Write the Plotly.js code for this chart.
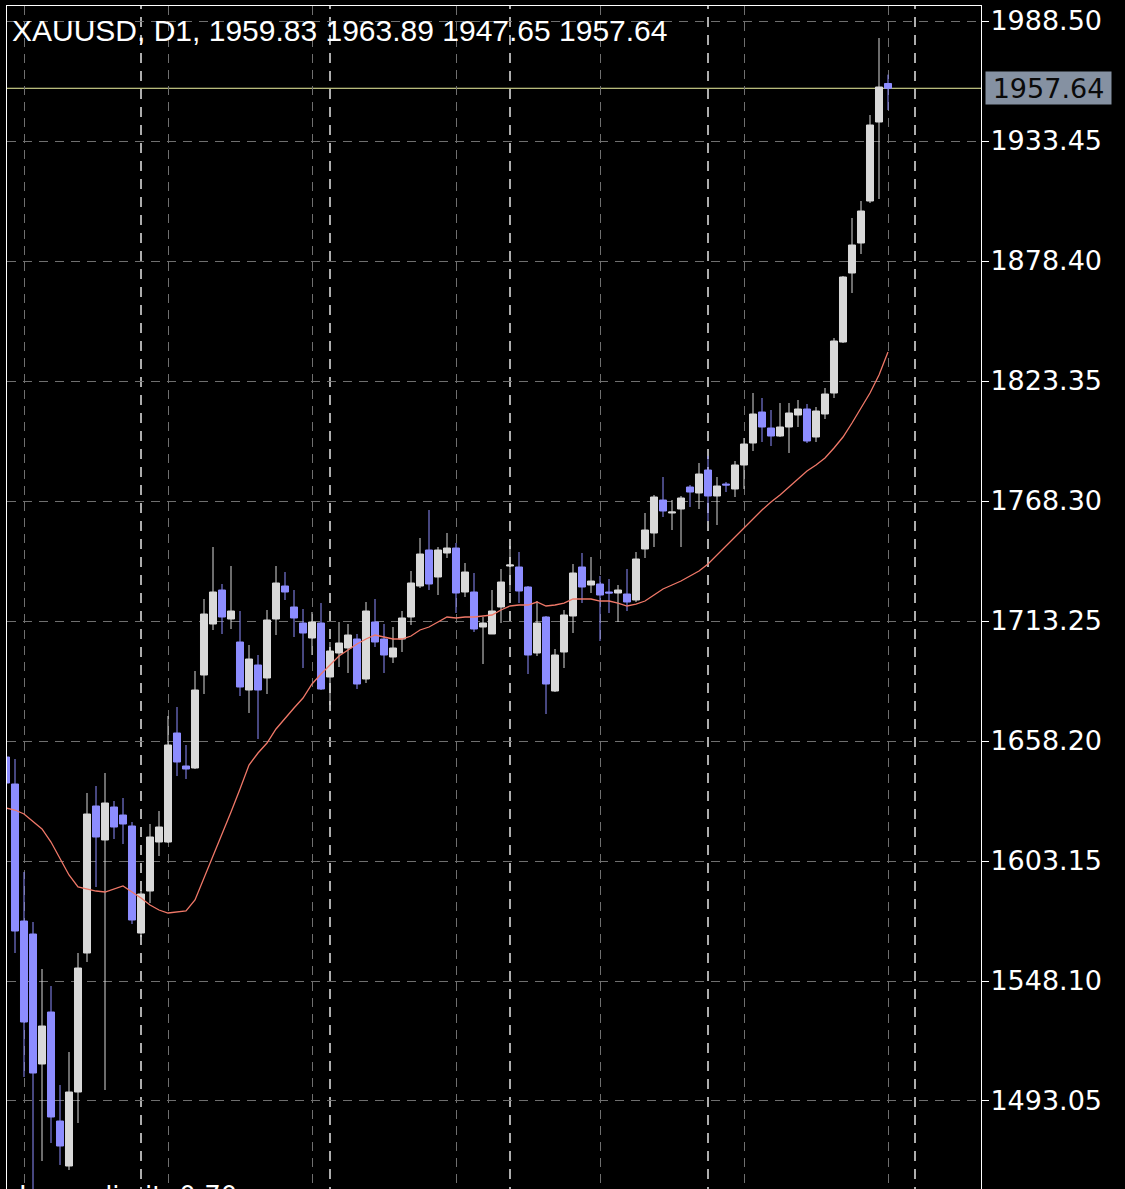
<!DOCTYPE html>
<html>
<head>
<meta charset="utf-8">
<script src="https://cdn.plot.ly/plotly-3.0.1.min.js"></script>
<style>
  html, body { margin: 0; padding: 0; background: #000; overflow: hidden; }
  #chart { width: 1125px; height: 1215px; }
</style>
</head>
<body>
<div id="chart"></div>
<script>
// ---- data (XAUUSD daily bars, oldest first) ----
const symbolName = "XAUUSD";
const timeframe = "D1";
const barIndex = Array.from({length: 99}, (_, i) => i);

const opens = [
  1650.86, 1638.47, 1575.62, 1569.66, 1510.02, 1533.87, 1483.87, 1463.23, 1497.17, 1560.94,
  1628.38, 1612.78, 1627.92, 1624.25, 1619.20, 1570.12, 1589.38, 1611.86, 1611.86, 1661.87,
  1646.73, 1645.81, 1688.47, 1711.87, 1727.47, 1714.16, 1703.61, 1681.59, 1693.06, 1687.10,
  1714.16, 1729.30, 1719.67, 1712.33, 1705.45, 1712.33, 1687.56, 1698.57, 1700.86, 1704.99,
  1686.64, 1712.79, 1704.99, 1696.73, 1704.99, 1715.08, 1729.30, 1745.82, 1733.43, 1744.44,
  1746.73, 1726.55, 1726.55, 1710.49, 1707.28, 1719.67, 1738.48, 1738.02, 1728.84, 1698.57,
  1715.08, 1681.13, 1699.02, 1715.54, 1738.02, 1729.76, 1730.22, 1726.55, 1726.09, 1725.63,
  1722.88, 1746.28, 1753.62, 1768.75, 1762.79, 1764.63, 1774.72, 1771.97, 1782.52, 1770.59,
  1776.09, 1773.80, 1784.81, 1794.90, 1809.12, 1801.78, 1798.11, 1802.24, 1807.75, 1810.50,
  1797.66, 1808.21, 1817.84, 1841.24, 1872.89, 1886.65, 1905.92, 1942.16, 1959.83
];
const highs = [
  1653.15, 1649.94, 1598.10, 1575.16, 1553.60, 1545.80, 1500.39, 1515.52, 1560.94, 1634.34,
  1637.55, 1643.52, 1630.67, 1632.05, 1621.04, 1589.84, 1620.12, 1626.08, 1669.66, 1673.79,
  1656.36, 1690.31, 1723.34, 1747.19, 1730.22, 1738.48, 1717.83, 1702.24, 1697.65, 1718.29,
  1738.48, 1735.72, 1727.47, 1718.75, 1717.37, 1721.50, 1703.61, 1712.79, 1711.87, 1707.28,
  1721.96, 1723.34, 1711.87, 1710.49, 1717.83, 1736.18, 1751.32, 1764.17, 1747.19, 1753.62,
  1749.03, 1739.85, 1735.27, 1715.08, 1727.47, 1737.10, 1747.65, 1744.90, 1729.30, 1722.42,
  1715.54, 1700.40, 1718.29, 1739.39, 1744.44, 1742.61, 1733.89, 1732.51, 1729.76, 1737.10,
  1744.90, 1762.79, 1771.05, 1779.31, 1768.75, 1770.59, 1775.64, 1785.73, 1788.94, 1779.31,
  1777.01, 1786.65, 1797.20, 1817.84, 1815.55, 1810.04, 1813.25, 1813.25, 1814.63, 1812.79,
  1811.42, 1820.14, 1843.07, 1871.51, 1898.12, 1905.92, 1945.37, 1980.70, 1963.89
];
const lows = [
  1637.55, 1560.94, 1504.06, 1449.92, 1465.52, 1473.78, 1463.69, 1461.39, 1482.95, 1556.82,
  1591.22, 1498.09, 1613.24, 1610.94, 1574.24, 1568.28, 1583.88, 1605.44, 1611.40, 1642.14,
  1640.76, 1645.35, 1679.76, 1709.12, 1707.28, 1709.58, 1678.84, 1671.04, 1659.11, 1679.76,
  1706.82, 1722.88, 1705.91, 1691.68, 1697.65, 1681.59, 1674.71, 1692.14, 1689.39, 1682.05,
  1684.80, 1701.32, 1689.39, 1693.98, 1699.02, 1711.41, 1728.38, 1727.47, 1725.17, 1742.15,
  1716.92, 1724.26, 1708.20, 1693.52, 1707.28, 1712.33, 1726.55, 1721.50, 1688.93, 1697.19,
  1670.58, 1680.67, 1691.68, 1707.74, 1721.50, 1726.09, 1704.07, 1716.92, 1712.79, 1717.83,
  1721.96, 1742.15, 1747.19, 1760.96, 1754.99, 1747.19, 1765.54, 1764.63, 1759.12, 1757.29,
  1772.42, 1770.13, 1773.80, 1791.23, 1795.36, 1793.53, 1797.66, 1790.32, 1802.24, 1794.90,
  1795.36, 1805.91, 1815.55, 1840.78, 1863.72, 1881.61, 1905.00, 1906.84, 1947.65
];
const closes = [
  1638.93, 1571.03, 1529.29, 1505.89, 1527.45, 1485.71, 1472.40, 1497.17, 1554.06, 1624.71,
  1614.16, 1629.75, 1618.74, 1620.12, 1576.08, 1588.01, 1614.16, 1618.74, 1656.36, 1648.56,
  1645.35, 1681.59, 1716.46, 1726.55, 1715.08, 1717.83, 1682.97, 1695.81, 1681.59, 1713.70,
  1730.68, 1726.55, 1714.62, 1707.74, 1712.79, 1682.05, 1699.48, 1703.15, 1706.82, 1684.34,
  1717.83, 1703.61, 1697.65, 1700.86, 1714.62, 1730.68, 1743.98, 1730.22, 1745.82, 1746.73,
  1726.09, 1735.72, 1709.58, 1712.33, 1717.83, 1731.14, 1738.94, 1727.01, 1697.65, 1712.33,
  1684.34, 1697.65, 1716.00, 1735.27, 1728.84, 1731.60, 1725.17, 1726.09, 1727.47, 1721.96,
  1741.69, 1754.99, 1770.13, 1763.71, 1763.25, 1769.67, 1772.42, 1780.68, 1770.59, 1775.18,
  1775.64, 1784.81, 1794.44, 1808.21, 1802.24, 1798.11, 1802.24, 1808.67, 1810.50, 1795.82,
  1809.58, 1817.38, 1841.70, 1871.06, 1885.74, 1901.33, 1940.79, 1958.22, 1957.64
];
const movingAverage = [
  1627.46, 1626.54, 1624.71, 1621.04, 1617.83, 1611.86, 1604.06, 1596.72, 1591.22, 1590.30,
  1589.38, 1588.92, 1590.30, 1591.68, 1588.92, 1586.17, 1582.96, 1580.67, 1579.29, 1579.75,
  1580.21, 1585.25, 1595.35, 1605.44, 1615.07, 1625.62, 1636.18, 1647.19, 1652.69, 1657.28,
  1663.70, 1668.75, 1673.33, 1677.92, 1684.34, 1688.93, 1693.06, 1697.19, 1699.94, 1702.69,
  1704.99, 1706.82, 1705.91, 1704.99, 1704.99, 1706.36, 1709.12, 1710.49, 1712.79, 1715.08,
  1714.62, 1715.08, 1715.08, 1715.54, 1716.00, 1718.29, 1720.13, 1720.59, 1720.59, 1721.96,
  1720.13, 1720.59, 1721.50, 1723.34, 1723.34, 1723.34, 1722.42, 1722.42, 1721.50, 1720.13,
  1721.04, 1722.42, 1725.17, 1727.93, 1729.76, 1731.60, 1733.89, 1736.18, 1739.39, 1743.52,
  1747.65, 1752.24, 1756.37, 1760.04, 1764.17, 1767.84, 1771.05, 1774.72, 1778.39, 1782.06,
  1784.81, 1788.02, 1792.61, 1797.66, 1804.08, 1810.96, 1817.84, 1826.10, 1836.65
];
// price scale labels
const priceTicks = [1493.05, 1548.10, 1603.15, 1658.20, 1713.25, 1768.30, 1823.35, 1878.40, 1933.45, 1988.50];
// bar-grid columns and month separators (bar indices)
const gridBars = [2, 18, 34, 50, 66, 82, 98];
const monthStarts = [15, 36, 56, 78, 101];
const footerText = "Lower limit: 0.70";

// ---- figure ----
const W = 1125, H = 1215;
const last = barIndex.length - 1;
const titleText = symbolName + ", " + timeframe + ", " +
  [opens[last], highs[last], lows[last], closes[last]].map(v => v.toFixed(2)).join(" ");

const candles = {
  type: "candlestick",
  x: barIndex, open: opens, high: highs, low: lows, close: closes,
  increasing: { line: { color: "#d9d9d9", width: 1 }, fillcolor: "#d9d9d9" },
  decreasing: { line: { color: "#8d8dff", width: 1 }, fillcolor: "#8d8dff" },
  whiskerwidth: 0,
  hoverinfo: "skip",
  showlegend: false
};
const maLine = {
  type: "scatter", mode: "lines",
  x: barIndex, y: movingAverage,
  line: { color: "#f07868", width: 1.3 },
  hoverinfo: "skip", showlegend: false
};

const shapes = monthStarts.map(b => ({
  type: "line", xref: "x", yref: "paper", x0: b, x1: b, y0: 0, y1: 1,
  line: { color: "#e6e6e6", width: 1.5, dash: "10px,8px" }, layer: "below"
}));
shapes.push({
  type: "line", xref: "paper", yref: "y", x0: 0, x1: 1, y0: closes[last], y1: closes[last],
  line: { color: "#eef3a0", width: 1 }, layer: "below"
});

const layout = {
  width: W, height: H,
  paper_bgcolor: "#000", plot_bgcolor: "#000",
  margin: { l: 7, r: 144, t: 6, b: 0, pad: 0 },
  boxgap: 0.22, boxgroupgap: 0,
  title: {
    text: titleText, xref: "container", yref: "container",
    x: 12 / W, xanchor: "left", y: 1 - 30 / H, yanchor: "middle",
    font: { family: "Liberation Sans, Arial, sans-serif", size: 30, color: "#ffffff" }
  },
  xaxis: {
    range: [1 / 9, 975 / 9],
    rangeslider: { visible: false },
    tickmode: "array", tickvals: gridBars, showticklabels: false, ticks: "",
    showgrid: true, gridcolor: "#6f6f6f", gridwidth: 1, griddash: "9px,7px",
    zeroline: false, showline: true, mirror: true, linecolor: "#ffffff", linewidth: 1,
    fixedrange: true
  },
  yaxis: {
    side: "right",
    range: [1440.75, 1995.38],
    tickmode: "array", tickvals: priceTicks, ticktext: priceTicks.map(v => v.toFixed(2)),
    ticks: "outside", ticklen: 7, tickcolor: "#ffffff", tickwidth: 1,
    ticklabelstandoff: -4,
    tickfont: { family: "DejaVu Sans, sans-serif", size: 27, color: "#ffffff" },
    showgrid: true, gridcolor: "#6f6f6f", gridwidth: 1, griddash: "9px,7px",
    zeroline: false, showline: true, mirror: true, linecolor: "#ffffff", linewidth: 1,
    fixedrange: true
  },
  shapes: shapes,
  annotations: [
    {
      xref: "paper", yref: "y", x: (985 - 7) / 974, xanchor: "left",
      y: closes[last], yanchor: "middle",
      text: closes[last].toFixed(2), showarrow: false,
      bgcolor: "#8591a2", borderpad: 3, width: 119, height: 26, align: "center",
      font: { family: "DejaVu Sans, sans-serif", size: 27, color: "#0a0a0a" }
    },
    {
      xref: "paper", yref: "paper", x: (17 - 7) / 974, xanchor: "left",
      y: (H - 1179) / (H - 6), yanchor: "top",
      text: footerText, showarrow: false,
      font: { family: "DejaVu Sans, sans-serif", size: 26, color: "#ffffff" }
    }
  ],
  showlegend: false,
  hovermode: false
};

Plotly.newPlot("chart", [candles, maLine], layout, { staticPlot: true, displayModeBar: false });
</script>
</body>
</html>
